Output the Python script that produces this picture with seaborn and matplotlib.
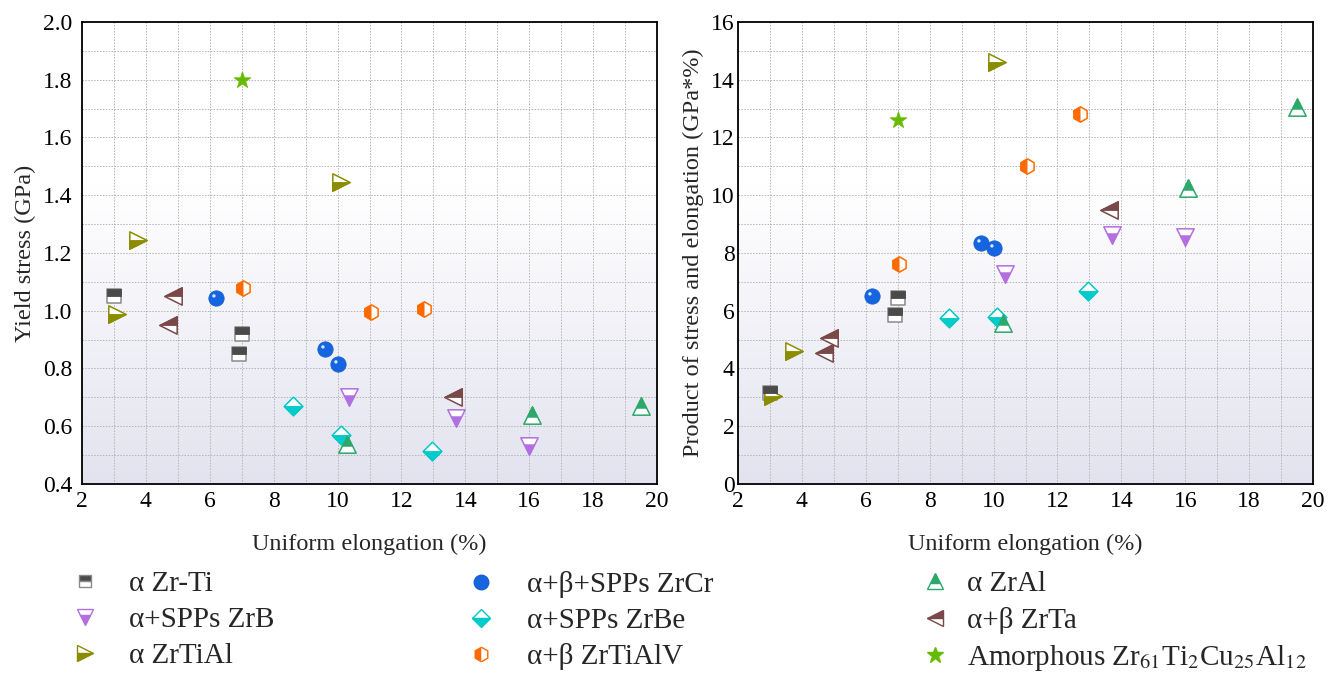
import numpy as np
import pandas as pd
import matplotlib
matplotlib.use("Agg")
import matplotlib.pyplot as plt
import seaborn as sns
from matplotlib.markers import MarkerStyle
from matplotlib.lines import Line2D
from matplotlib.path import Path
from matplotlib.ticker import MultipleLocator, FormatStrFormatter
from matplotlib.colors import LinearSegmentedColormap

# ---------------- data ----------------
zrti_el = [3.0, 7.0, 6.9]
zrti_ys = [1.05, 0.92, 0.85]
zrti_pse = [3.15, 6.45, 5.86]

zrcr_el = [6.2, 9.6, 10.0]
zrcr_ys = [1.045, 0.867, 0.815]
zrcr_pse = [6.50, 8.34, 8.16]

zral_el = [10.3, 16.1, 19.5]
zral_ys = [0.54, 0.64, 0.67]
zral_pse = [5.56, 10.25, 13.05]

zrb_el = [10.35, 13.7, 16.0]
zrb_ys = [0.70, 0.63, 0.53]
zrb_pse = [7.27, 8.62, 8.55]

zrbe_el = [8.6, 10.1, 12.95]
zrbe_ys = [0.67, 0.57, 0.515]
zrbe_pse = [5.76, 5.79, 6.70]

zrta_el = [4.85, 4.7, 13.6]
zrta_ys = [1.05, 0.95, 0.70]
zrta_pse = [5.07, 4.53, 9.49]

zrtial_el = [3.1, 3.75, 10.1]
zrtial_ys = [0.99, 1.245, 1.447]
zrtial_pse = [3.05, 4.61, 14.6]

zrtialv_el = [7.05, 11.05, 12.7]
zrtialv_ys = [1.08, 0.995, 1.007]
zrtialv_pse = [7.61, 11.02, 12.82]

amor_el = [7.0]
amor_ys = [1.80]
amor_pse = [12.6]

labels = ["α Zr-Ti", "α+SPPs ZrB", "α ZrTiAl",
          "α+β+SPPs ZrCr", "α+SPPs ZrBe", "α+β ZrTiAlV",
          "α ZrAl", "α+β ZrTa",
          "Amorphous Zr$_{61}$Ti$_{2}$Cu$_{25}$Al$_{12}$"]

series = {
    "α Zr-Ti": (zrti_el, zrti_ys, zrti_pse),
    "α+SPPs ZrB": (zrb_el, zrb_ys, zrb_pse),
    "α ZrTiAl": (zrtial_el, zrtial_ys, zrtial_pse),
    "α+β+SPPs ZrCr": (zrcr_el, zrcr_ys, zrcr_pse),
    "α+SPPs ZrBe": (zrbe_el, zrbe_ys, zrbe_pse),
    "α+β ZrTiAlV": (zrtialv_el, zrtialv_ys, zrtialv_pse),
    "α ZrAl": (zral_el, zral_ys, zral_pse),
    "α+β ZrTa": (zrta_el, zrta_ys, zrta_pse),
    labels[8]: (amor_el, amor_ys, amor_pse),
}

frames = []
for name, (el, ys, pse) in series.items():
    frames.append(pd.DataFrame({"alloy": name, "elong": el, "ys": ys, "pse": pse}))
df = pd.concat(frames, ignore_index=True)

# ---------------- styles ----------------
# marker, fillstyle of coloured half, face colour, edge colour, size(pt)
styles = {
    "α Zr-Ti": ("s", "top", "#4a4a4a", "#8a8a8a", 9.8),
    "α+SPPs ZrB": ("v", "bottom", "#b36ee0", "#b36ee0", 12.5),
    "α ZrTiAl": (">", "bottom", "#8c8c00", "#8c8c00", 12.5),
    "α+β+SPPs ZrCr": ("o", "full", "#1565e0", "#1a5fd0", 11),
    "α+SPPs ZrBe": ("D", "bottom", "#00cccc", "#00c8c8", 9.5),
    "α+β ZrTiAlV": ("h", "left", "#ff6a00", "#ff6a00", 11),
    "α ZrAl": ("^", "top", "#2ca86a", "#2ca86a", 12.5),
    "α+β ZrTa": ("<", "top", "#7a4848", "#7a4848", 12.5),
    labels[8]: ("*", "full", "#66bb00", "#66bb00", 12.5),
}

sns.set_theme(style="white")
plt.rcParams["font.family"] = ["Liberation Serif", "DejaVu Serif"]
plt.rcParams["mathtext.fontset"] = "stix"

fig = plt.figure(figsize=(13.4, 6.75), dpi=100)
ax1 = fig.add_axes([0.0612, 0.283, 0.4291, 0.6844])
ax2 = fig.add_axes([0.5507, 0.283, 0.4292, 0.6844])

bg_cmap = LinearSegmentedColormap.from_list(
    "bg", [(0.0, "#ffffff"), (0.36, "#ffffff"), (1.0, "#e3e3f0")])
grad = np.linspace(0, 1, 256).reshape(-1, 1)

# highlight marker for spheres
circ = Path.circle((-0.17, 0.17), 0.11)
hl_path = Path(np.vstack([[(0.5, 0.5)], circ.vertices]),
               np.concatenate([[Path.MOVETO], circ.codes]))
hl_marker = MarkerStyle(hl_path)

FS = 17.5

for ax, ycol in [(ax1, "ys"), (ax2, "pse")]:
    ax.imshow(grad, extent=(0, 1, 0, 1), transform=ax.transAxes,
              cmap=bg_cmap, aspect="auto", zorder=0, interpolation="bicubic")
    for name in labels:
        sub = df[df["alloy"] == name]
        mk, fs, fc, ec, ms = styles[name]
        if fs == "full":
            sns.scatterplot(data=sub, x="elong", y=ycol, ax=ax, marker=mk,
                            s=ms ** 2, color=fc, edgecolor=ec, linewidth=0.6,
                            zorder=3, legend=False)
            if mk == "o":
                sns.scatterplot(data=sub, x="elong", y=ycol, ax=ax,
                                marker=hl_marker, s=ms ** 2, color="#d8e8ff",
                                linewidth=0, zorder=4, legend=False)
        else:
            sns.scatterplot(data=sub, x="elong", y=ycol, ax=ax, marker=mk,
                            s=ms ** 2, color="white", edgecolor=ec,
                            linewidth=1.1, zorder=3, legend=False)
            sns.scatterplot(data=sub, x="elong", y=ycol, ax=ax,
                            marker=MarkerStyle(mk, fillstyle=fs),
                            s=ms ** 2, color=fc, edgecolor=ec if mk != "s" else fc,
                            linewidth=0.6, zorder=4, legend=False)

    ax.set_xlim(2, 20)
    ax.xaxis.set_major_locator(MultipleLocator(2))
    ax.xaxis.set_minor_locator(MultipleLocator(1))
    ax.set_axisbelow(True)
    ax.grid(True, which="both", linestyle=(0, (1.5, 1.5)), color="#b4b4b4",
            linewidth=0.7, zorder=1)
    ax.tick_params(which="both", direction="in", top=False, right=False,
                   labelsize=17, colors="black", width=1.2)
    ax.tick_params(which="major", length=6)
    ax.tick_params(which="minor", length=3.5)
    ax.tick_params(axis="x", which="major", pad=5)
    for sp in ax.spines.values():
        sp.set_visible(True)
        sp.set_color("black")
        sp.set_linewidth(1.3)
    ax.set_xlabel("Uniform elongation (%)", fontsize=FS, labelpad=16)

ax1.tick_params(axis="y", which="major", pad=7)
ax2.tick_params(axis="y", which="major", pad=2.5)

ax1.set_ylim(0.4, 2.0)
ax1.yaxis.set_major_locator(MultipleLocator(0.2))
ax1.yaxis.set_minor_locator(MultipleLocator(0.1))
ax1.yaxis.set_major_formatter(FormatStrFormatter("%.1f"))
ax1.set_ylabel("Yield stress (GPa)", fontsize=FS, labelpad=5)

ax2.set_ylim(0, 16)
ax2.yaxis.set_major_locator(MultipleLocator(2))
ax2.yaxis.set_minor_locator(MultipleLocator(1))
ax2.set_ylabel("Product of stress and elongation (GPa*%)", fontsize=FS, labelpad=5)

# ---------------- legend ----------------
def handle(name):
    mk, fs, fc, ec, ms = styles[name]
    return Line2D([], [], linestyle="none", marker=mk, markersize=ms * 0.95,
                  fillstyle=fs, markerfacecolor=fc, markerfacecoloralt="white",
                  markeredgecolor=ec, markeredgewidth=1.0)

LFS = 21
cols = [labels[0:3], labels[3:6], labels[6:9]]
xpos = [0.0525, 0.348, 0.6869]
pads = [1.0, 1.08, 0.6]
for names, x, pad in zip(cols, xpos, pads):
    fig.legend(handles=[handle(n) for n in names], labels=names,
               loc="upper left", bbox_to_anchor=(x, 0.154),
               frameon=False, fontsize=LFS, labelspacing=0.32,
               handletextpad=pad, handlelength=1.0, borderaxespad=0,
               borderpad=0, bbox_transform=fig.transFigure)

fig.savefig("out.png", dpi=100)
